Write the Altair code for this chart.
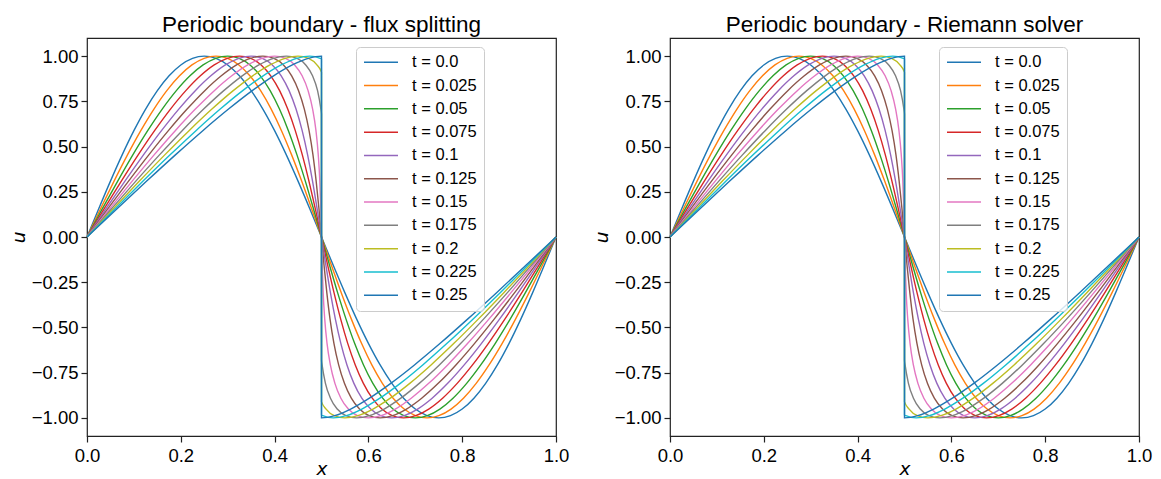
import altair as alt
import pandas as pd

# ---- data ----
LABELS = ["t = 0.0", "t = 0.025", "t = 0.05", "t = 0.075", "t = 0.1", "t = 0.125",
          "t = 0.15", "t = 0.175", "t = 0.2", "t = 0.225", "t = 0.25"]
COLORS = ["#1f77b4", "#ff7f0e", "#2ca02c", "#d62728", "#9467bd", "#8c564b",
          "#e377c2", "#7f7f7f", "#bcbd22", "#17becf", "#1f77b4"]

# u levels shared by every curve (one per sample along the profile)
U_VALUES = [0, .1564, .309, .454, .5878, .7071, .809, .891, .9511, .9877, 1,
            .9877, .9511, .891, .809, .7071, .5878, .454, .309, .1564, 0,
            -.1564, -.309, -.454, -.5878, -.7071, -.809, -.891, -.9511, -.9877, -1,
            -.9877, -.9511, -.891, -.809, -.7071, -.5878, -.454, -.309, -.1564, 0]

N = None
X_T000 = [0, .025, .05, .075, .1, .125, .15, .175, .2, .225, .25, .275, .3, .325, .35, .375, .4,
          .425, .45, .475, .5, .525, .55, .575, .6, .625, .65, .675, .7, .725, .75, .775, .8,
          .825, .85, .875, .9, .925, .95, .975, 1.0]
X_T025 = [0, .0289, .0577, .0863, .1147, .1427, .1702, .1973, .2238, .2497, .275, .2997, .3238,
          .3473, .3702, .3927, .4147, .4363, .4577, .4789, .5, .5211, .5423, .5637, .5853, .6073,
          .6298, .6527, .6762, .7003, .725, .7503, .7762, .8027, .8298, .8573, .8853, .9137,
          .9423, .9711, 1.0]
X_T050 = [0, .0328, .0655, .0977, .1294, .1604, .1905, .2196, .2476, .2744, .3, .3244, .3476,
          .3696, .3905, .4104, .4294, .4477, .4655, .4828, .5, .5172, .5345, .5523, .5706, .5896,
          .6095, .6304, .6524, .6756, .7, .7256, .7524, .7804, .8095, .8396, .8706, .9023, .9345,
          .9672, 1.0]
X_T075 = [0, .0367, .0732, .1091, .1441, .178, .2107, .2418, .2713, .2991, .325, .3491, .3713,
          .3918, .4107, .428, .4441, .4591, .4732, .4867, .5, .5133, .5268, .5409, .5559, .572,
          .5893, .6082, .6287, .6509, .675, .7009, .7287, .7582, .7893, .822, .8559, .8909, .9268,
          .9633, 1.0]
X_T100 = [0, .0406, .0809, .1204, .1588, .1957, .2309, .2641, .2951, .3238, .35, .3738, .3951,
          .4141, .4309, .4457, .4588, .4704, .4809, .4906, .5, .5094, .5191, .5296, .5412, .5543,
          .5691, .5859, .6049, .6262, .65, .6762, .7049, .7359, .7691, .8043, .8412, .8796, .9191,
          .9594, 1.0]
X_T125 = [0, .0446, .0886, .1318, .1735, .2134, .2511, .2864, .3189, .3485, .375, .3985, .4189,
          .4364, .4511, .4634, .4735, .4818, .4886, .4946, .5, .5054, .5114, .5182, .5265, .5366,
          .5489, .5636, .5811, .6015, .625, .6515, .6811, .7136, .7489, .7866, .8265, .8682,
          .9114, .9554, 1.0]
X_T150 = [0, .0485, .0964, .1431, .1882, .2311, .2714, .3087, .3427, .3732, .4, .4232, .4427,
          .4587, .4714, .4811, .4882, .4931, .4964, .4985, .5, .5015, .5036, .5069, .5118, .5189,
          .5286, .5413, .5573, .5768, .6, .6268, .6573, .6913, .7286, .7689, .8118, .8569, .9036,
          .9515, 1.0]
X_T175 = [0, .0524, .1041, .1545, .2029, .2487, .2916, .3309, .3664, .3979, .425, .4479, .4664,
          .4809, .4916, .4987, N, N, N, N, N, N, N, N, N, .5013, .5084, .5191, .5336, .5521, .575,
          .6021, .6336, .6691, .7084, .7513, .7971, .8455, .8959, .9476, 1.0]
X_T200 = [0, .0563, .1118, .1658, .2176, .2664, .3118, .3532, .3902, .4225, .45, .4725, .4902,
          N, N, N, N, N, N, N, N, N, N, N, N, N, N, N, .5098, .5275, .55, .5775, .6098, .6468,
          .6882, .7336, .7824, .8342, .8882, .9437, 1.0]
X_T225 = [0, .0602, .1195, .1772, .2323, .2841, .332, .3755, .414, .4472, .475, .4972,
          N, N, N, N, N, N, N, N, N, N, N, N, N, N, N, N, N, .5028, .525, .5528, .586, .6245,
          .668, .7159, .7677, .8228, .8805, .9398, 1.0]
X_T250 = [0, .0641, .1273, .1885, .2469, .3018, .3523, .3978, .4378, .4719, .5,
          N, N, N, N, N, N, N, N, N, N, N, N, N, N, N, N, N, N, N, .5, .5281, .5622, .6022,
          .6477, .6982, .7531, .8115, .8727, .9359, 1.0]

X_SERIES = [X_T000, X_T025, X_T050, X_T075, X_T100, X_T125, X_T150,
            X_T175, X_T200, X_T225, X_T250]

# height of the jump at x = 0.5 for the curves that carry a shock
SHOCK_X = 0.5
SHOCK_U = {"t = 0.175": 0.680, "t = 0.2": 0.910, "t = 0.225": 0.984, "t = 0.25": 1.0}

X_TICKS = [0.0, 0.2, 0.4, 0.6, 0.8, 1.0]
Y_TICKS = [-1.0, -0.75, -0.5, -0.25, 0.0, 0.25, 0.5, 0.75, 1.0]

rows = []
for label, xs in zip(LABELS, X_SERIES):
    order = 0
    shock_done = False
    for x, u in zip(xs, U_VALUES):
        if x is None:
            if not shock_done:
                su = SHOCK_U[label]
                rows.append(dict(label=label, x=SHOCK_X, u=su, order=order)); order += 1
                rows.append(dict(label=label, x=SHOCK_X, u=-su, order=order)); order += 1
                shock_done = True
            continue
        rows.append(dict(label=label, x=x, u=u, order=order))
        order += 1
df = pd.DataFrame(rows)

FONT = "Liberation Sans"


def panel(title):
    return alt.Chart(df, title=title).mark_line(strokeWidth=1.4, interpolate="monotone").encode(
        x=alt.X("x:Q", title="x", scale=alt.Scale(domain=[0, 1], nice=False, zero=False),
                axis=alt.Axis(values=X_TICKS, format=".1f", labelFlush=False,
                              labelOverlap=False, labelPadding=4, titlePadding=-5)),
        y=alt.Y("u:Q", title="u", scale=alt.Scale(domain=[-1.1, 1.1], nice=False, zero=False),
                axis=alt.Axis(values=Y_TICKS, format=".2f", labelOverlap=False,
                              labelPadding=3, titlePadding=3)),
        color=alt.Color("label:N", scale=alt.Scale(domain=LABELS, range=COLORS),
                        legend=alt.Legend(
                            title=None, orient="none", legendX=269, legendY=9,
                            symbolType="stroke", symbolSize=1156, symbolStrokeWidth=1.5,
                            clipHeight=16.5, rowPadding=6.3, labelFontSize=16.5,
                            labelFont=FONT, labelColor="black", labelOffset=13, padding=7,
                            strokeColor="#cccccc", fillColor="rgba(255,255,255,0.8)",
                            cornerRadius=4)),
        order="order:Q",
    ).properties(width=469, height=398)


left = panel("Periodic boundary - flux splitting")
right = panel("Periodic boundary - Riemann solver")

chart = alt.hconcat(left, right, spacing=21).resolve_legend(color="independent").properties(
    padding={"left": 0, "top": 4, "right": 0, "bottom": 0}
).configure_view(
    stroke="#222222", strokeWidth=1.2
).configure_axis(
    domain=False, grid=False, tickColor="#222222", tickSize=6, tickWidth=1.2,
    labelFont=FONT, labelFontSize=18.5, labelColor="black",
    titleFont="DejaVu Sans", titleFontSize=18.5, titleFontStyle="italic",
    titleFontWeight="normal", titleColor="black"
).configure_title(
    font=FONT, fontSize=22.5, fontWeight="normal", color="black", offset=2
)

chart.save("out.html", embed_options={"renderer": "svg", "actions": False})
